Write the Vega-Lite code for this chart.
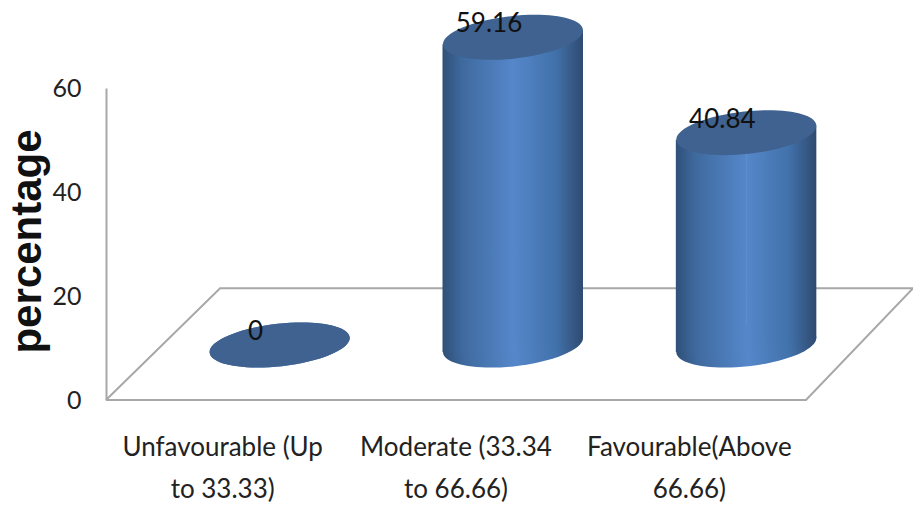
{
  "$schema": "https://vega.github.io/schema/vega-lite/v6.json",
  "width": 700,
  "height": 312,
  "autosize": {"type": "none"},
  "padding": {"left": 106, "top": 88, "right": 107, "bottom": 108},
  "background": "white",
  "view": {"stroke": null},
  "data": {"values": [
    {"category": "Unfavourable (Up\nto 33.33)", "percentage": 0},
    {"category": "Moderate (33.34\nto 66.66)", "percentage": 59.16},
    {"category": "Favourable(Above\n66.66)", "percentage": 40.84}
  ]},
  "resolve": {"scale": {"x": "independent"}},
  "encoding": {
    "y": {
      "type": "quantitative", "scale": {"domain": [0, 60]},
      "axis": {
        "values": [0, 20, 40, 60], "grid": false, "ticks": false,
        "domainColor": "#a8a8a8", "domainWidth": 2, "labelPadding": 25,
        "labelFont": "Lato", "labelFontSize": 25, "labelColor": "#222222",
        "title": "percentage", "titleFont": "Liberation Sans", "titleFontWeight": "bold",
        "titleFontSize": 42, "titleColor": "#111111", "titleX": -57, "titleY": 153
      }
    }
  },
  "layer": [
    {
      "data": {"values": [
        {"step": 1, "across": 0, "level": 0},
        {"step": 2, "across": 1, "level": 0},
        {"step": 3, "across": 1.153, "level": 21.5},
        {"step": 4, "across": 0.163, "level": 21.5},
        {"step": 5, "across": 0, "level": 0}
      ]},
      "mark": {"type": "line", "color": "#a8a8a8", "strokeWidth": 2},
      "encoding": {
        "x": {"field": "across", "type": "quantitative", "scale": {"domain": [0, 1]}, "axis": null},
        "y": {"field": "level"},
        "order": {"field": "step"}
      }
    },
    {
      "mark": {
        "type": "point", "filled": true, "opacity": 1, "size": 19825, "angle": -6.3,
        "shape": "M -1 0 A 1 0.302 0 1 1 1 0 A 1 0.302 0 1 1 -1 0 Z",
        "xOffset": 57, "yOffset": -55,
        "fill": {"x1": 0, "x2": 1, "y1": 0, "y2": 0, "gradient": "linear", "stops": [
          {"offset": 0, "color": "#2f5078"},
          {"offset": 0.14, "color": "#3f6a9f"},
          {"offset": 0.5, "color": "#5587ca"},
          {"offset": 0.8, "color": "#4272ab"},
          {"offset": 1, "color": "#2f4a70"}
        ]}
      },
      "encoding": {
        "x": {"field": "category", "type": "nominal", "sort": null, "axis": null},
        "y": {"datum": 0}
      }
    },
    {
      "mark": {
        "type": "bar", "size": 71, "xOffset": 22, "x2Offset": 22, "yOffset": -48, "y2Offset": -48,
        "fill": {"x1": 0, "x2": 1, "y1": 0, "y2": 0, "gradient": "linear", "stops": [
          {"offset": 0, "color": "#2f5078"},
          {"offset": 0.28, "color": "#3f6a9f"},
          {"offset": 1, "color": "#5587ca"}
        ]}
      },
      "encoding": {
        "x": {
          "field": "category", "type": "nominal", "sort": null,
          "axis": {
            "title": null, "domain": false, "ticks": false, "labelAngle": 0, "labelPadding": 47,
            "labelExpr": "split(datum.label, '\\n')", "labelLineHeight": 42, "labelLimit": 0,
            "labelFont": "Lato", "labelFontSize": 26, "labelColor": "#222222",
            "labelBaseline": "middle"
          }
        },
        "y": {"field": "percentage"}
      }
    },
    {
      "mark": {
        "type": "bar", "size": 70, "xOffset": 92, "x2Offset": 92, "yOffset": -62, "y2Offset": -62,
        "fill": {"x1": 0, "x2": 1, "y1": 0, "y2": 0, "gradient": "linear", "stops": [
          {"offset": 0, "color": "#5587ca"},
          {"offset": 0.6, "color": "#4272ab"},
          {"offset": 1, "color": "#2f4a70"}
        ]}
      },
      "encoding": {
        "x": {"field": "category", "type": "nominal", "sort": null, "axis": null},
        "y": {"field": "percentage"}
      }
    },
    {
      "mark": {
        "type": "point", "filled": true, "opacity": 1, "size": 19825, "angle": -6.3, "color": "#3f6290",
        "shape": "M -1 0 A 1 0.302 0 1 1 1 0 A 1 0.302 0 1 1 -1 0 Z",
        "xOffset": 57, "yOffset": -55
      },
      "encoding": {
        "x": {"field": "category", "type": "nominal", "sort": null, "axis": null},
        "y": {"field": "percentage"}
      }
    },
    {
      "mark": {
        "type": "text", "dx": 33, "dy": -68, "align": "center", "baseline": "middle",
        "font": "Lato", "fontSize": 26, "color": "#111111"
      },
      "encoding": {
        "x": {"field": "category", "type": "nominal", "sort": null, "axis": null},
        "y": {"field": "percentage"},
        "text": {"field": "percentage", "type": "quantitative"}
      }
    }
  ]
}
